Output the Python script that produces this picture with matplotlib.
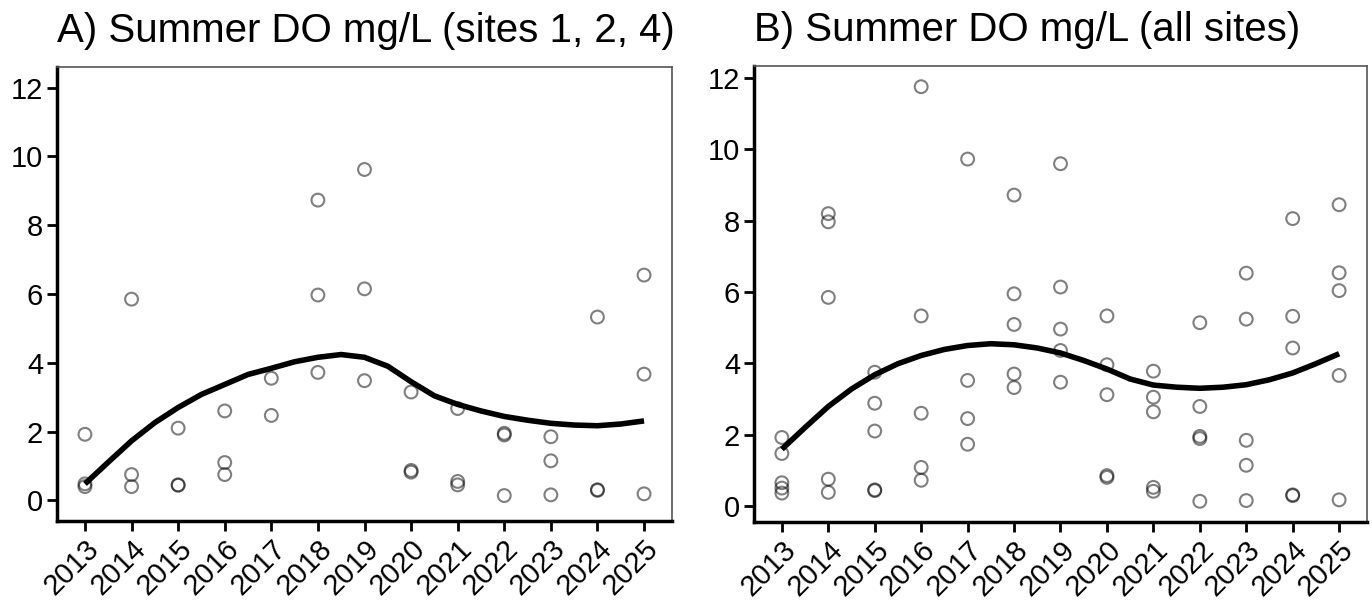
import matplotlib.pyplot as plt
import matplotlib.transforms as mtransforms

plt.rcParams["font.family"] = ["Liberation Sans", "DejaVu Sans"]

# Data: summer DO (mg/L), sites 1, 2, 4
years_a = [2013, 2013, 2013, 2014, 2014, 2014, 2015, 2015, 2015,
           2016, 2016, 2016, 2017, 2017, 2018, 2018, 2018,
           2019, 2019, 2019, 2020, 2020, 2020, 2021, 2021, 2021,
           2022, 2022, 2022, 2023, 2023, 2023, 2024, 2024, 2024,
           2025, 2025, 2025]
do_a = [1.92, 0.48, 0.40, 5.85, 0.75, 0.40, 2.10, 0.45, 0.44,
        2.60, 1.10, 0.75, 3.55, 2.47, 8.73, 5.97, 3.72,
        9.62, 6.15, 3.48, 3.15, 0.87, 0.82, 2.67, 0.55, 0.45,
        1.95, 1.90, 0.14, 1.85, 1.15, 0.16, 5.33, 0.31, 0.29,
        6.55, 3.67, 0.19]

# Data: summer DO (mg/L), all sites
years_b = [2013] * 5 + [2014] * 5 + [2015] * 5 + [2016] * 5 + [2017] * 4 \
    + [2018] * 5 + [2019] * 5 + [2020] * 5 + [2021] * 5 + [2022] * 5 \
    + [2023] * 5 + [2024] * 5 + [2025] * 5
do_b = [1.92, 1.47, 0.65, 0.50, 0.36,
        8.20, 7.97, 5.85, 0.75, 0.38,
        3.75, 2.88, 2.10, 0.45, 0.43,
        11.76, 5.33, 2.60, 1.08, 0.72,
        9.73, 3.52, 2.45, 1.73,
        8.72, 5.95, 5.09, 3.70, 3.32,
        9.60, 6.14, 4.96, 4.36, 3.47,
        5.33, 3.96, 3.12, 0.85, 0.80,
        3.78, 3.05, 2.64, 0.52, 0.41,
        5.14, 2.79, 1.95, 1.89, 0.13,
        6.53, 5.24, 1.84, 1.14, 0.15,
        8.06, 5.32, 4.43, 0.31, 0.29,
        8.45, 6.54, 6.04, 3.66, 0.17]

# smooth trend lines, every half year
smooth_x = [2013 + 0.5 * i for i in range(25)]
smooth_a = [0.48, 1.11, 1.73, 2.26, 2.70, 3.08, 3.37, 3.66, 3.84, 4.03,
            4.16, 4.24, 4.16, 3.90, 3.45, 3.04, 2.79, 2.60, 2.44, 2.33,
            2.24, 2.19, 2.17, 2.22, 2.31]
smooth_b = [1.59, 2.20, 2.79, 3.28, 3.68, 3.99, 4.22, 4.39, 4.50, 4.55,
            4.52, 4.43, 4.29, 4.08, 3.84, 3.56, 3.39, 3.33, 3.30, 3.33,
            3.40, 3.54, 3.73, 3.99, 4.27]

year_ticks = list(range(2013, 2026))
titles = ["A) Summer DO mg/L (sites 1, 2, 4)", "B) Summer DO mg/L (all sites)"]

fig = plt.figure(figsize=(13.72, 6.12), dpi=100)
ax_a = fig.add_axes([57 / 1372, 91 / 612, 615 / 1372, 454 / 612])
ax_b = fig.add_axes([754 / 1372, 90 / 612, 613 / 1372, 456 / 612])

panels = [(ax_a, years_a, do_a, smooth_a, (-0.6, 12.6)),
          (ax_b, years_b, do_b, smooth_b, None)]
shift = mtransforms.ScaledTranslation(8 / 72, -4 / 72, fig.dpi_scale_trans)
for (ax, xv, yv, sm, ylim), title in zip(panels, titles):
    ax.scatter(xv, yv, s=85, facecolors="none", edgecolors="black",
               linewidths=1.5, alpha=0.5, zorder=2)
    ax.plot(smooth_x, sm, color="black", lw=4, zorder=3,
            solid_capstyle="butt", solid_joinstyle="round")
    ax.set_xlim(2012.4, 2025.6)
    if ylim is None:
        lo, hi = min(yv), max(yv)
        pad = (hi - lo) * 0.05
        ax.set_ylim(lo - pad, hi + pad)
    else:
        ax.set_ylim(*ylim)
    ax.set_yticks([0, 2, 4, 6, 8, 10, 12])
    ax.set_xticks(year_ticks)
    ax.set_xticklabels([str(y) for y in year_ticks], rotation=45,
                       ha="right", va="top", rotation_mode="anchor")
    for lab in ax.get_xticklabels():
        lab.set_transform(lab.get_transform() + shift)
    ax.tick_params(axis="both", labelsize=21, length=7, width=2,
                   color="black", labelcolor="black", pad=3)
    for side in ("left", "bottom"):
        ax.spines[side].set_linewidth(2.5)
        ax.spines[side].set_color("black")
    for side in ("top", "right"):
        ax.spines[side].set_linewidth(1.2)
        ax.spines[side].set_color("#555555")
    ax.set_title(title, fontsize=29, loc="left", pad=18)

fig.savefig("out.png", dpi=100)
